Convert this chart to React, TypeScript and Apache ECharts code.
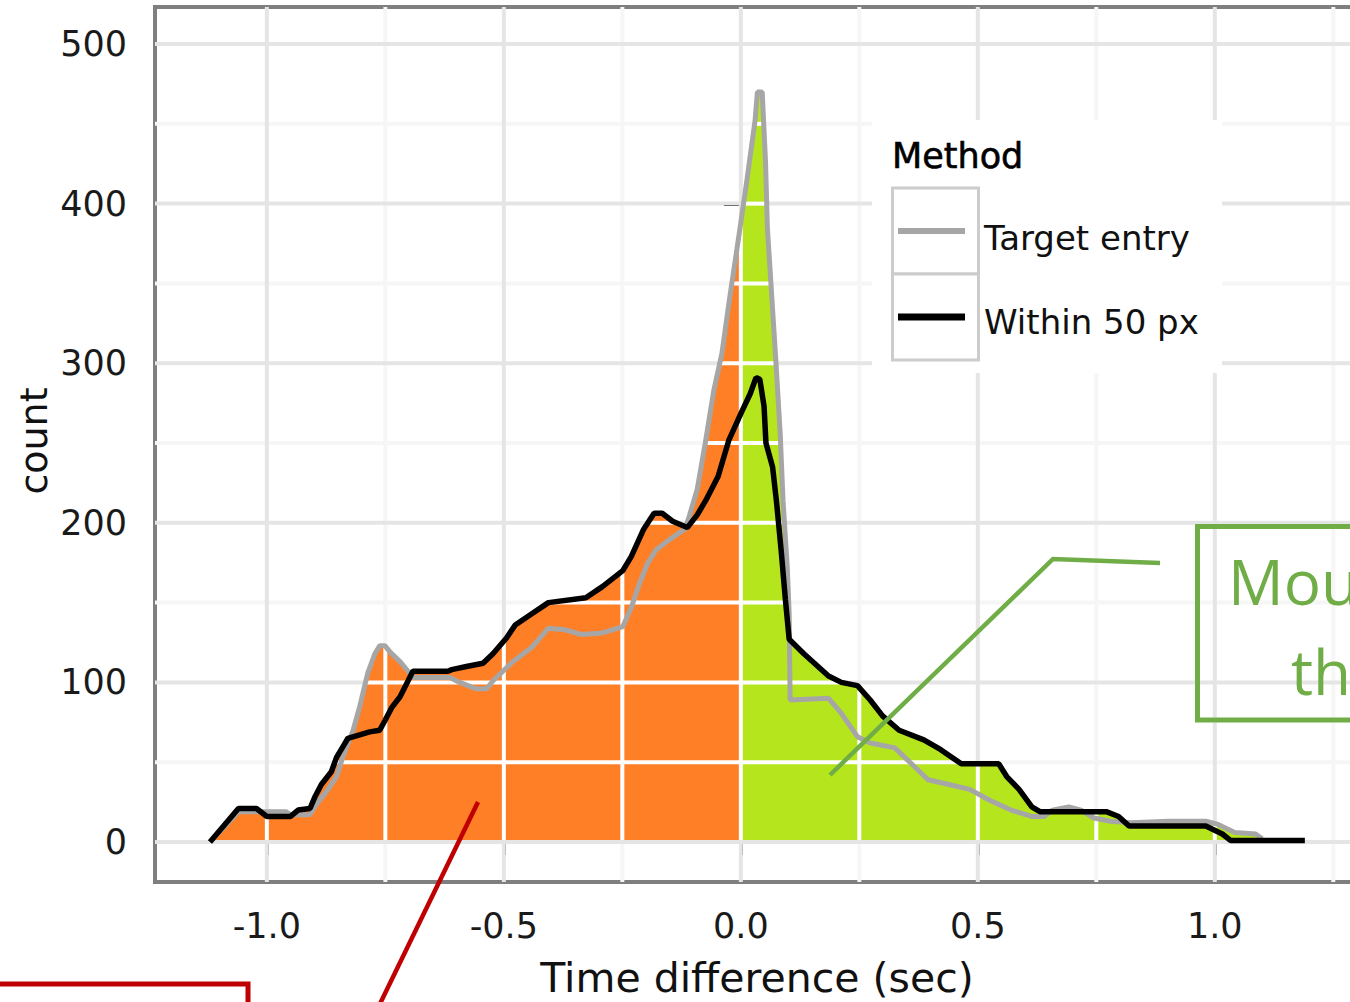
import React, { useEffect, useRef } from "react";
import * as echarts from "echarts";

// ---------- data ----------
const seriesNames = ["Target entry", "Within 50 px"];

const targetEntry: [number, number][] = [
  [-1.12, 0], [-1.06, 19], [-1.0, 19], [-0.96, 19], [-0.95, 17], [-0.91, 17],
  [-0.892, 25], [-0.871, 33], [-0.853, 41], [-0.84, 53], [-0.818, 70], [-0.804, 85],
  [-0.787, 106], [-0.772, 118], [-0.762, 123], [-0.751, 123], [-0.74, 119], [-0.719, 113],
  [-0.702, 107], [-0.692, 103], [-0.614, 103], [-0.593, 100], [-0.558, 96], [-0.536, 96],
  [-0.523, 101], [-0.502, 107], [-0.481, 113], [-0.441, 122], [-0.406, 134], [-0.371, 133],
  [-0.336, 130], [-0.292, 131], [-0.249, 135], [-0.231, 147], [-0.214, 162], [-0.196, 175],
  [-0.179, 183], [-0.153, 189], [-0.118, 196], [-0.109, 204], [-0.092, 221], [-0.075, 250],
  [-0.057, 283], [-0.04, 306], [-0.023, 342], [-0.005, 378], [0.013, 415], [0.03, 452],
  [0.035, 470], [0.045, 470], [0.052, 427], [0.056, 385], [0.065, 343], [0.074, 301],
  [0.083, 256], [0.089, 214], [0.098, 172], [0.102, 143], [0.104, 89], [0.185, 90],
  [0.211, 81], [0.246, 66], [0.273, 62], [0.325, 59], [0.36, 49], [0.395, 39],
  [0.439, 36], [0.483, 33], [0.526, 26], [0.57, 20], [0.614, 16], [0.64, 16],
  [0.657, 20], [0.692, 22], [0.718, 20], [0.745, 15], [0.78, 13], [0.823, 12],
  [0.902, 13], [0.981, 13], [1.007, 11], [1.042, 6], [1.086, 5], [1.1, 2],
];

const within50px: [number, number][] = [
  [-1.12, 0], [-1.06, 21], [-1.022, 21], [-1.0, 16], [-0.95, 16], [-0.934, 20],
  [-0.909, 21], [-0.899, 28], [-0.885, 36], [-0.864, 44], [-0.853, 53], [-0.835, 62],
  [-0.829, 65], [-0.783, 69], [-0.762, 70], [-0.751, 76], [-0.737, 84], [-0.719, 91],
  [-0.702, 101], [-0.692, 107], [-0.618, 107], [-0.61, 108], [-0.579, 110], [-0.544, 112],
  [-0.523, 118], [-0.494, 128], [-0.476, 136], [-0.441, 143], [-0.406, 150], [-0.327, 153],
  [-0.292, 160], [-0.249, 170], [-0.231, 179], [-0.205, 196], [-0.183, 206], [-0.166, 206],
  [-0.144, 201], [-0.113, 197], [-0.092, 205], [-0.074, 214], [-0.048, 229], [-0.025, 252],
  [0.001, 269], [0.02, 281], [0.032, 291], [0.04, 290], [0.049, 273], [0.053, 250],
  [0.067, 235], [0.075, 214], [0.085, 183], [0.094, 152], [0.102, 127], [0.133, 118],
  [0.185, 104], [0.212, 100], [0.246, 98], [0.273, 89], [0.299, 79], [0.334, 70],
  [0.386, 64], [0.421, 58], [0.465, 49], [0.544, 49], [0.561, 41], [0.587, 33],
  [0.614, 22], [0.631, 19], [0.771, 19], [0.797, 16], [0.819, 10], [0.981, 10],
  [1.016, 5], [1.033, 1], [1.19, 1],
];

const xMajorTicks = [-1, -0.5, 0, 0.5, 1];
const xMinorTicks = [-0.75, -0.25, 0.25, 0.75, 1.25];
const yMajorTicks = [0, 100, 200, 300, 400, 500];
const yMinorTicks = [50, 150, 250, 350, 450];

const legendTitle = "Method";
const xTitle = "Time difference (sec)";
const yTitle = "count";
const calloutGreen = ["Mou", "th"];

// ---------- helpers ----------
const FONT = '"DejaVu Sans", "Liberation Sans", sans-serif';

function interp(pts: [number, number][], x: number): number {
  if (x < pts[0][0] || x > pts[pts.length - 1][0]) return -Infinity;
  for (let i = 0; i < pts.length - 1; i++) {
    const [x1, y1] = pts[i];
    const [x2, y2] = pts[i + 1];
    if (x >= x1 && x <= x2) {
      if (x2 === x1) return Math.max(y1, y2);
      return y1 + ((x - x1) / (x2 - x1)) * (y2 - y1);
    }
  }
  return pts[pts.length - 1][1];
}

function envAt(x: number): number {
  return Math.max(interp(targetEntry, x), interp(within50px, x), 0);
}

function buildEnvelope(): [number, number][] {
  const xs = Array.from(
    new Set([...targetEntry.map((p) => p[0]), ...within50px.map((p) => p[0]), 0])
  ).sort((a, b) => a - b);
  const out: [number, number][] = [];
  for (let i = 0; i < xs.length; i++) {
    out.push([xs[i], envAt(xs[i])]);
    if (i < xs.length - 1) {
      const a = xs[i];
      const b = xs[i + 1];
      const da = interp(targetEntry, a) - interp(within50px, a);
      const db = interp(targetEntry, b) - interp(within50px, b);
      if (isFinite(da) && isFinite(db) && da * db < 0) {
        const xc = a + ((b - a) * da) / (da - db);
        out.push([xc, envAt(xc)]);
      }
    }
  }
  return out;
}

const envelope = buildEnvelope();
const leftFill = envelope.filter((p) => p[0] <= 0);
const rightFill = envelope.filter((p) => p[0] >= 0);

function segmentsAbove(level: number): [number, number][] {
  const segs: [number, number][] = [];
  let start: number | null = null;
  for (let i = 0; i < envelope.length; i++) {
    const [x, e] = envelope[i];
    if (e > level && start === null) {
      if (i === 0) start = x;
      else {
        const [px, pe] = envelope[i - 1];
        start = px + ((level - pe) / (e - pe)) * (x - px);
      }
    } else if (e <= level && start !== null) {
      const [px, pe] = envelope[i - 1];
      const end = px + ((level - pe) / (e - pe)) * (x - px);
      segs.push([start, end]);
      start = null;
    }
  }
  if (start !== null) segs.push([start, envelope[envelope.length - 1][0]]);
  return segs;
}

export default function App() {
  const ref = useRef<HTMLDivElement>(null);

  useEffect(() => {
    if (!ref.current) return;
    const chart = echarts.init(ref.current, undefined, { renderer: "svg" });

    const grayGrid = (params: any, api: any) => {
      if (params.dataIndex !== 0) return null;
      const cs = params.coordSys;
      const children: any[] = [];
      const vline = (v: number, color: string) => {
        const p = api.coord([v, 0]);
        children.push({
          type: "line",
          shape: { x1: p[0], y1: cs.y, x2: p[0], y2: cs.y + cs.height },
          style: { stroke: color, lineWidth: 4 },
        });
      };
      const hline = (v: number, color: string) => {
        const p = api.coord([0, v]);
        children.push({
          type: "line",
          shape: { x1: cs.x, y1: p[1], x2: cs.x + cs.width, y2: p[1] },
          style: { stroke: color, lineWidth: 4 },
        });
      };
      xMinorTicks.forEach((v) => vline(v, "#F6F6F6"));
      yMinorTicks.forEach((v) => hline(v, "#F6F6F6"));
      xMajorTicks.forEach((v) => vline(v, "#E5E5E5"));
      yMajorTicks.forEach((v) => hline(v, "#E5E5E5"));
      return { type: "group", children };
    };

    const whiteGrid = (params: any, api: any) => {
      if (params.dataIndex !== 0) return null;
      const cs = params.coordSys;
      const children: any[] = [];
      [...xMinorTicks, ...xMajorTicks].forEach((v) => {
        const h = envAt(v);
        if (h > 0) {
          const a = api.coord([v, 0]);
          const b = api.coord([v, h]);
          children.push({
            type: "line",
            shape: { x1: a[0], y1: a[1], x2: b[0], y2: b[1] },
            style: { stroke: "#FFFFFF", lineWidth: 4 },
          });
        }
      });
      [...yMinorTicks, ...yMajorTicks.filter((v) => v > 0)].forEach((v) => {
        segmentsAbove(v).forEach(([s, e]) => {
          const a = api.coord([s, v]);
          const b = api.coord([e, v]);
          children.push({
            type: "line",
            shape: { x1: a[0], y1: a[1], x2: b[0], y2: b[1] },
            style: { stroke: "#FFFFFF", lineWidth: 4 },
          });
        });
      });
      const z0 = api.coord([0, 0]);
      children.push({
        type: "line",
        shape: { x1: cs.x, y1: z0[1], x2: cs.x + cs.width, y2: z0[1] },
        style: { stroke: "#E5E5E5", lineWidth: 4 },
      });
      return { type: "group", children };
    };

    const option: any = {
      animation: false,
      backgroundColor: "#FFFFFF",
      grid: {
        left: 155,
        top: 7,
        width: 1202,
        height: 875,
        show: true,
        borderColor: "#7F7F7F",
        borderWidth: 4,
        backgroundColor: "transparent",
        containLabel: false,
        outerBoundsMode: "none",
      },
      xAxis: {
        type: "value",
        min: -1.236,
        max: 1.3,
        axisLine: { show: false },
        splitLine: { show: false },
        axisTick: {
          show: true,
          customValues: xMajorTicks,
          length: 13,
          lineStyle: { color: "#000000", width: 4 },
        },
        axisLabel: {
          customValues: xMajorTicks,
          formatter: (v: number) => v.toFixed(1),
          margin: 26,
          fontFamily: FONT,
          fontSize: 35,
          color: "#1A1A1A",
        },
      },
      yAxis: {
        type: "value",
        min: -25.06,
        max: 523.2,
        axisLine: { show: false },
        splitLine: { show: false },
        axisTick: {
          show: true,
          customValues: yMajorTicks,
          length: 17,
          lineStyle: { color: "#000000", width: 4 },
        },
        axisLabel: {
          customValues: yMajorTicks,
          formatter: (v: number) => String(Math.round(v)),
          margin: 28,
          fontFamily: FONT,
          fontSize: 35,
          color: "#1A1A1A",
        },
      },
      series: [
        {
          type: "custom",
          name: "gridGray",
          z: 1,
          silent: true,
          renderItem: grayGrid,
          data: [[0, 0]],
        },
        {
          type: "line",
          name: "fillLeft",
          z: 2,
          silent: true,
          symbol: "none",
          data: leftFill,
          lineStyle: { width: 0 },
          areaStyle: { color: "#FF7F27", opacity: 1 },
        },
        {
          type: "line",
          name: "fillRight",
          z: 2,
          silent: true,
          symbol: "none",
          data: rightFill,
          lineStyle: { width: 0 },
          areaStyle: { color: "#B5E61D", opacity: 1 },
        },
        {
          type: "custom",
          name: "gridWhite",
          z: 3,
          silent: true,
          renderItem: whiteGrid,
          data: [[0, 0]],
        },
        {
          type: "line",
          name: seriesNames[0],
          z: 4,
          symbol: "none",
          data: targetEntry,
          lineStyle: { color: "#A6A6A6", width: 5 },
        },
        {
          type: "line",
          name: seriesNames[1],
          z: 5,
          symbol: "none",
          data: within50px,
          lineStyle: { color: "#000000", width: 5.5 },
        },
      ],
      graphic: [
        // legend
        { type: "rect", z: 100, shape: { x: 872, y: 120, width: 350, height: 253 }, style: { fill: "#FFFFFF" } },
        {
          type: "text", z: 101, x: 892, y: 156,
          style: { text: legendTitle, fontFamily: FONT, fontSize: 35, fill: "#000000", align: "left", verticalAlign: "middle", stroke: "#000000", lineWidth: 0.6 },
        },
        { type: "rect", z: 101, shape: { x: 892.5, y: 188, width: 86, height: 86 }, style: { fill: "#FFFFFF", stroke: "#CCCCCC", lineWidth: 3 } },
        { type: "rect", z: 101, shape: { x: 892.5, y: 274, width: 86, height: 86 }, style: { fill: "#FFFFFF", stroke: "#CCCCCC", lineWidth: 3 } },
        { type: "line", z: 102, shape: { x1: 898, y1: 231, x2: 965, y2: 231 }, style: { stroke: "#A6A6A6", lineWidth: 6 } },
        { type: "line", z: 102, shape: { x1: 898, y1: 317, x2: 965, y2: 317 }, style: { stroke: "#000000", lineWidth: 7 } },
        {
          type: "text", z: 101, x: 984, y: 238,
          style: { text: seriesNames[0], fontFamily: FONT, fontSize: 34, fill: "#111111", align: "left", verticalAlign: "middle" },
        },
        {
          type: "text", z: 101, x: 984, y: 322,
          style: { text: seriesNames[1], fontFamily: FONT, fontSize: 34, fill: "#111111", align: "left", verticalAlign: "middle" },
        },
        // axis titles
        {
          type: "text", z: 101, x: 757, y: 978,
          style: { text: xTitle, fontFamily: FONT, fontSize: 41, fill: "#111111", align: "center", verticalAlign: "middle" },
        },
        {
          type: "text", z: 101, x: 34, y: 441, rotation: Math.PI / 2,
          style: { text: yTitle, fontFamily: FONT, fontSize: 38, fill: "#111111", align: "center", verticalAlign: "middle" },
        },
        // green callout
        {
          type: "polyline", z: 110,
          shape: { points: [[1160, 563], [1053, 559], [830, 775]] },
          style: { stroke: "#70AD47", lineWidth: 4.5, fill: "none" },
        },
        {
          type: "rect", z: 110,
          shape: { x: 1197.5, y: 526.5, width: 300, height: 193.5 },
          style: { stroke: "#70AD47", lineWidth: 5, fill: "none" },
        },
        {
          type: "text", z: 111, x: 1228, y: 581,
          style: { text: calloutGreen[0], fontFamily: '"Open Sans", sans-serif', fontSize: 62, fill: "#70AD47", align: "left", verticalAlign: "middle" },
        },
        {
          type: "text", z: 111, x: 1291, y: 671,
          style: { text: calloutGreen[1], fontFamily: '"Open Sans", sans-serif', fontSize: 62, fill: "#70AD47", align: "left", verticalAlign: "middle" },
        },
        // red callout
        {
          type: "line", z: 110,
          shape: { x1: 478, y1: 802, x2: 376, y2: 1012 },
          style: { stroke: "#C00000", lineWidth: 4.5 },
        },
        {
          type: "polyline", z: 110,
          shape: { points: [[-5, 984], [248, 984], [248, 1012]] },
          style: { stroke: "#C00000", lineWidth: 5, fill: "none" },
        },
      ],
    };

    chart.setOption(option);
    return () => chart.dispose();
  }, []);

  return (
    <div
      ref={ref}
      style={{ position: "absolute", left: 0, top: 0, width: 1350, height: 1002, background: "#fff" }}
    />
  );
}
